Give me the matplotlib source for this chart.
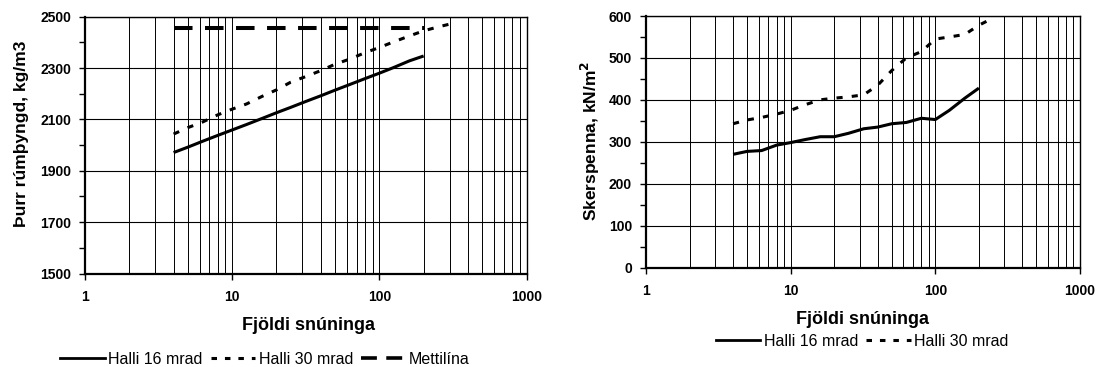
import matplotlib
matplotlib.use("Agg")
import matplotlib.pyplot as plt
from matplotlib.lines import Line2D
from matplotlib.ticker import LogLocator, FixedLocator, NullFormatter, FuncFormatter

plt.rcParams['font.family'] = ['Liberation Sans', 'DejaVu Sans']

# ---- data ----
n_16 = [4, 5, 6.3, 8, 10, 12.5, 16, 20, 25, 32, 40, 50, 63, 80, 100, 125, 160, 200]
n_30_left = [4, 5, 6.3, 8, 10, 12.5, 16, 20, 25, 32, 40, 50, 63, 80, 100, 125, 160, 200, 250, 300]
n_30_right = [4, 5, 6.3, 8, 10, 12.5, 16, 20, 25, 32, 40, 50, 63, 80, 100, 125, 160, 200, 250]

density_16 = [1971, 1992, 2015, 2038, 2059, 2080, 2104, 2126, 2147, 2171, 2192, 2214,
              2236, 2259, 2280, 2302, 2328, 2347]
density_30 = [2043, 2068, 2090, 2118, 2140, 2160, 2190, 2215, 2245, 2268, 2290, 2315,
              2335, 2360, 2380, 2402, 2425, 2445, 2460, 2471]
mettilina_n = [4, 200]
mettilina = [2455, 2455]

shear_16 = [270, 277, 279, 292, 298, 305, 312, 312, 320, 331, 335, 343, 346, 356, 353,
            375, 404, 428]
shear_30 = [343, 352, 358, 366, 375, 388, 400, 404, 407, 412, 435, 470, 500, 515, 545,
            550, 556, 578, 595]

x_ticks = [1, 10, 100, 1000]
left_yticks = [1500, 1700, 1900, 2100, 2300, 2500]
right_yticks = [0, 100, 200, 300, 400, 500, 600]

label_x = 'Fjöldi snúninga'
label_y_left = 'Þurr rúmþyngd, kg/m3'
label_y_right = 'Skerspenna, kN/m$^\\mathbf{2}$'
leg_16 = 'Halli 16 mrad'
leg_30 = 'Halli 30 mrad'
leg_mett = 'Mettilína'

W, H = 1096, 367
fig = plt.figure(figsize=(W / 100, H / 100), dpi=100)

def px_axes(x0, x1, ytop, ybot):
    return fig.add_axes([x0 / W, (H - ybot) / H, (x1 - x0) / W, (ybot - ytop) / H])

ax1 = px_axes(85, 526.5, 16.7, 273.5)
ax2 = px_axes(646, 1080, 16, 267.5)

LW = 2.2
solid_kw = dict(color='black', lw=LW, solid_capstyle='butt')
dash_kw = dict(color='black', lw=LW, linestyle=(0, (2.0, 3.0)), dash_capstyle='butt')
mett_kw = dict(color='black', lw=2.9, linestyle=(0, (4.6, 3.1)), dash_capstyle='butt')

def style(ax, yticks, ymin, ymax, yminor):
    ax.set_xscale('log')
    ax.set_xlim(1, 1000)
    ax.set_ylim(ymin, ymax)
    ax.xaxis.set_major_locator(FixedLocator(x_ticks))
    ax.xaxis.set_major_formatter(FuncFormatter(lambda v, p: f'{int(v)}'))
    ax.xaxis.set_minor_locator(LogLocator(base=10, subs=range(2, 10)))
    ax.xaxis.set_minor_formatter(NullFormatter())
    ax.set_yticks(yticks)
    ax.yaxis.set_minor_locator(FixedLocator(yminor))
    ax.grid(True, which='major', axis='y', color='black', lw=0.8)
    ax.grid(True, which='both', axis='x', color='black', lw=0.7)
    ax.tick_params(axis='x', which='major', direction='out', length=4, width=1, pad=8,
                   labelsize=10)
    ax.tick_params(axis='x', which='minor', length=0)
    ax.tick_params(axis='y', which='major', direction='out', length=4, width=1, pad=6,
                   labelsize=10)
    ax.tick_params(axis='y', which='minor', direction='out', length=4, width=1)
    for lab in ax.get_xticklabels() + ax.get_yticklabels():
        lab.set_fontweight('bold')
    for s in ['left', 'bottom']:
        ax.spines[s].set_linewidth(1.6)
    for s in ['top', 'right']:
        ax.spines[s].set_linewidth(1.0)
    ax.set_axisbelow(True)

style(ax1, left_yticks, 1500, 2500, [1600, 1800, 2000, 2200, 2400])
style(ax2, right_yticks, 0, 600, [50, 150, 250, 350, 450, 550])

ax1.plot(n_16, density_16, **solid_kw)
ax1.plot(n_30_left, density_30, **dash_kw)
ax1.plot(mettilina_n, mettilina, **mett_kw)

ax2.plot(n_16, shear_16, **solid_kw)
ax2.plot(n_30_right, shear_30, **dash_kw)

# labels
fig.text(309 / W, 1 - 325 / H, label_x, ha='center', va='center', fontsize=13, fontweight='bold')
fig.text(863 / W, 1 - 319 / H, label_x, ha='center', va='center', fontsize=13, fontweight='bold')
fig.text(22 / W, 1 - 134 / H, label_y_left, ha='center', va='center', rotation=90,
         fontsize=12.5, fontweight='bold')
fig.text(590 / W, 1 - 141 / H, label_y_right, ha='center', va='center', rotation=90,
         fontsize=12.5, fontweight='bold')

# legends
h16 = Line2D([], [], color='black', lw=2.0)
h30 = Line2D([], [], color='black', lw=2.2, linestyle=(0, (1.8, 2.6)))
hm = Line2D([], [], color='black', lw=2.6, linestyle=(0, (4.4, 2.6)))

leg_kw = dict(frameon=False, ncol=3, fontsize=11.5, handlelength=2.8, handletextpad=0.2,
              columnspacing=0.5, borderaxespad=0, borderpad=0)
fig.legend([h16, h30, hm], [leg_16, leg_30, leg_mett], loc='center',
           bbox_to_anchor=(265 / W, 1 - 359 / H), **leg_kw)
fig.legend([h16, h30], [leg_16, leg_30], loc='center',
           bbox_to_anchor=(862 / W, 1 - 341 / H), **leg_kw)

fig.savefig('out.png', dpi=100)
